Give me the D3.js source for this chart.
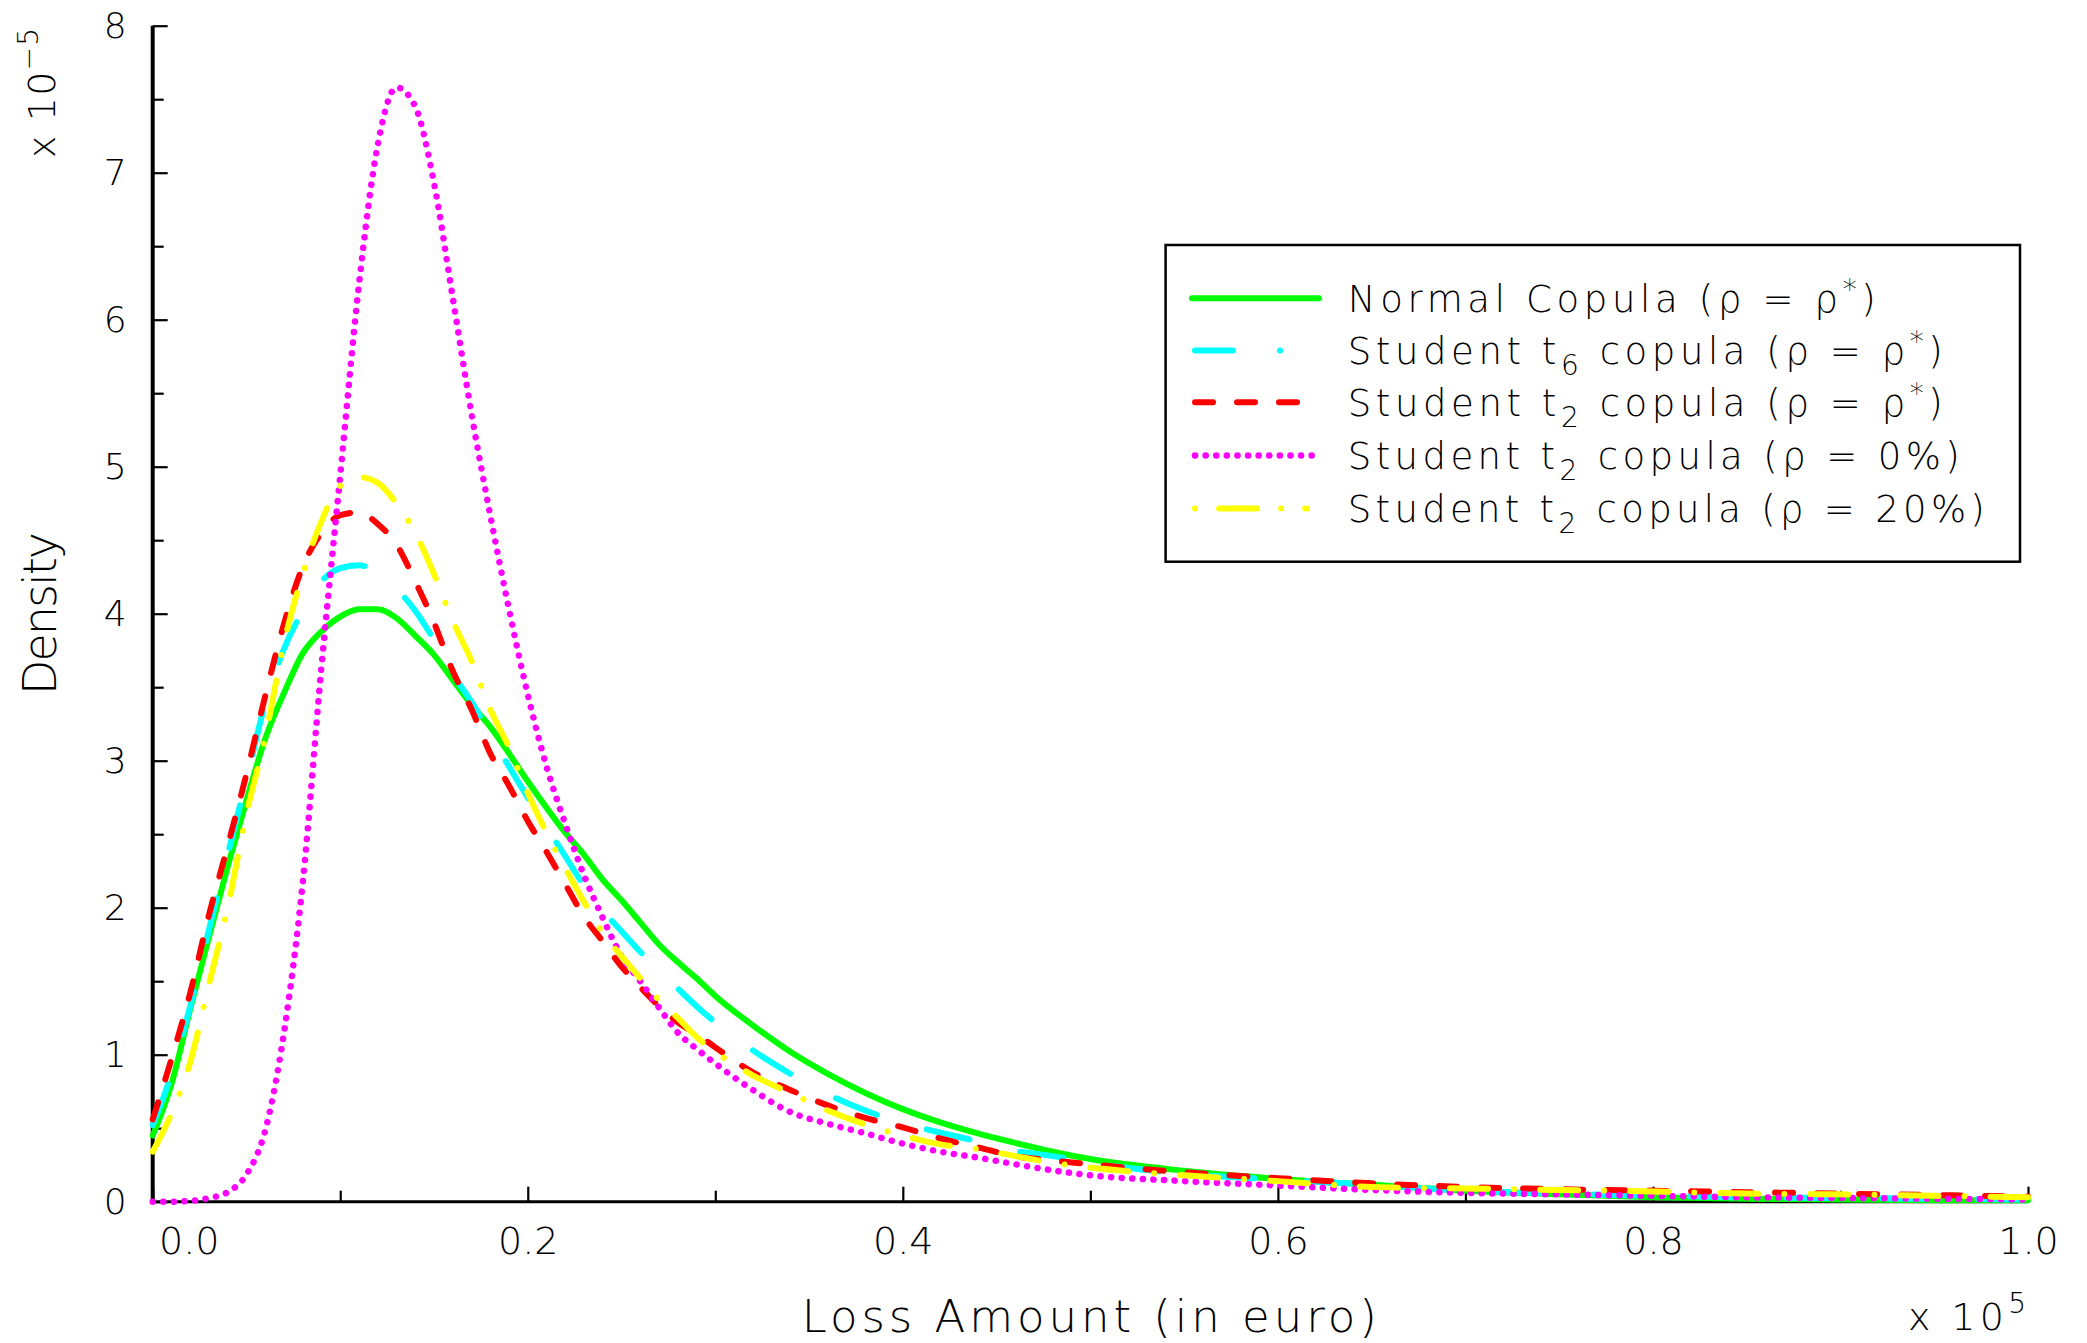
<!DOCTYPE html>
<html>
<head>
<meta charset="utf-8">
<script src="https://cdn.jsdelivr.net/npm/d3@7"></script>
<style>
html, body { margin: 0; padding: 0; background: #ffffff; }
svg { display: block; }
text { font-family: "DejaVu Sans", "Liberation Sans", sans-serif; font-weight: 300; fill: #000; }
</style>
</head>
<body>
<svg id="chart" width="2087" height="1343"></svg>
<script>
// ---------- data (x in units of 10^5 euro, density in units of 10^-5) ----------
const xGrid = [0, 0.01, 0.02, 0.03, 0.04, 0.05, 0.06, 0.07, 0.08, 0.09, 0.10,
  0.11, 0.12, 0.13, 0.14, 0.15, 0.16, 0.17, 0.18, 0.19, 0.20,
  0.21, 0.22, 0.23, 0.24, 0.25, 0.26, 0.27, 0.28, 0.29, 0.30,
  0.32, 0.34, 0.36, 0.38, 0.40, 0.42, 0.44, 0.46, 0.48, 0.50,
  0.55, 0.60, 0.65, 0.70, 0.75, 0.80, 0.85, 0.90, 0.95, 1.00];

const normalCopula = [0.45, 0.80, 1.31, 1.80, 2.28, 2.73, 3.15, 3.46, 3.73, 3.88, 3.98,
  4.03, 4.03, 3.97, 3.85, 3.72, 3.55, 3.38, 3.23, 3.05, 2.86,
  2.68, 2.51, 2.36, 2.19, 2.05, 1.90, 1.75, 1.63, 1.52, 1.40,
  1.20, 1.02, 0.87, 0.74, 0.63, 0.54, 0.465, 0.40, 0.34, 0.29,
  0.21, 0.155, 0.115, 0.075, 0.05, 0.03, 0.02, 0.015, 0.01, 0.01];

const studentT6 = [0.52, 0.87, 1.33, 1.85, 2.36, 2.87, 3.39, 3.76, 4.02, 4.22, 4.31,
  4.33, 4.28, 4.17, 4.02, 3.82, 3.59, 3.40, 3.18, 2.96, 2.75,
  2.55, 2.35, 2.15, 1.98, 1.84, 1.70, 1.57, 1.45, 1.33, 1.22,
  1.03, 0.87, 0.73, 0.62, 0.535, 0.47, 0.41, 0.345, 0.31, 0.265,
  0.19, 0.15, 0.115, 0.075, 0.055, 0.04, 0.03, 0.025, 0.02, 0.015];

const studentT2 = [0.56, 0.97, 1.42, 1.95, 2.42, 2.91, 3.44, 3.93, 4.32, 4.55, 4.67,
  4.69, 4.61, 4.47, 4.22, 3.94, 3.61, 3.35, 3.05, 2.83, 2.59,
  2.38, 2.16, 1.94, 1.77, 1.60, 1.46, 1.33, 1.22, 1.14, 1.05,
  0.88, 0.76, 0.655, 0.57, 0.505, 0.43, 0.37, 0.31, 0.28, 0.255,
  0.20, 0.16, 0.125, 0.10, 0.085, 0.075, 0.065, 0.055, 0.045, 0.035];

const studentT2Rho0 = [0, 0, 0.005, 0.025, 0.065, 0.185, 0.485, 1.15, 2.17, 3.64, 4.94,
  6.24, 7.19, 7.58, 7.45, 6.93, 6.15, 5.36, 4.67, 4.03, 3.45,
  2.96, 2.57, 2.22, 1.93, 1.67, 1.50, 1.32, 1.15, 1.04, 0.94,
  0.76, 0.61, 0.53, 0.465, 0.395, 0.34, 0.30, 0.255, 0.213, 0.18,
  0.14, 0.11, 0.08, 0.06, 0.05, 0.04, 0.03, 0.025, 0.02, 0.015];

const studentT2Rho20 = [0.34, 0.60, 0.95, 1.48, 2.00, 2.64, 3.16, 3.80, 4.27, 4.63, 4.87,
  4.93, 4.89, 4.75, 4.55, 4.27, 3.95, 3.68, 3.35, 3.09, 2.78,
  2.51, 2.27, 2.04, 1.83, 1.67, 1.52, 1.37, 1.25, 1.12, 1.02,
  0.86, 0.74, 0.62, 0.525, 0.45, 0.39, 0.358, 0.31, 0.265, 0.232,
  0.18, 0.14, 0.10, 0.09, 0.08, 0.07, 0.055, 0.05, 0.04, 0.03];

const xTicksMajor = [0, 0.2, 0.4, 0.6, 0.8, 1.0];
const xTickLabels = ["0.0", "0.2", "0.4", "0.6", "0.8", "1.0"];
const xTicksMinor = [0.1, 0.3, 0.5, 0.7, 0.9];
const yTicksMajor = [0, 1, 2, 3, 4, 5, 6, 7, 8];
const yTicksMinor = [0.5, 1.5, 2.5, 3.5, 4.5, 5.5, 6.5, 7.5];

const legendNames = ["Normal Copula", "Student t", "Student t", "Student t", "Student t"];
const legendSubs = ["", "6", "2", "2", "2"];
const legendRhos = ["ρ*", "ρ*", "ρ*", "0%", "20%"];

// ---------- styles ----------
const seriesList = [
  { values: normalCopula,   color: "#00ff00", dash: null,              legendDash: null,              width: 6 },
  { values: studentT6,      color: "#00ffff", dash: "44,52",           legendDash: "38,47,0.1,300",   width: 6 },
  { values: studentT2,      color: "#ff0000", dash: "18,24",           legendDash: "18,24",           width: 6 },
  { values: studentT2Rho0,  color: "#ff00ff", dash: "0.1,10.5",        legendDash: "0.1,10.5",        width: 6.5 },
  { values: studentT2Rho20, color: "#ffff00", dash: "38,26,0.1,26",    legendDash: "0.1,24,38,24",    width: 6 }
];
const legendEnds = [1319, 1319, 1300, 1319, 1307];

const svg = d3.select("#chart");
const x = d3.scaleLinear().domain([0, 1]).range([152.7, 2028]);
const y = d3.scaleLinear().domain([0, 8]).range([1201.7, 25.7]);

// ---------- axes ----------
function styleAxis(g) {
  g.select(".domain").remove();
  g.selectAll(".tick line").attr("stroke", "#000").attr("stroke-width", 2.2);
}
svg.append("g").attr("transform", `translate(${x(0)},0)`)
  .call(d3.axisLeft(y).tickValues(yTicksMinor).tickSizeInner(-11).tickSizeOuter(0).tickFormat(() => ""))
  .call(styleAxis);
const gyMajor = svg.append("g").attr("transform", `translate(${x(0)},0)`)
  .call(d3.axisLeft(y).tickValues(yTicksMajor).tickSizeInner(-15).tickSizeOuter(0).tickPadding(26).tickFormat(d3.format("d")))
  .call(styleAxis);
gyMajor.selectAll("text").attr("font-size", 36).attr("font-family", null).attr("fill", "#000");

svg.append("g").attr("transform", `translate(0,${y(0)})`)
  .call(d3.axisBottom(x).tickValues(xTicksMinor).tickSizeInner(-11).tickSizeOuter(0).tickFormat(() => ""))
  .call(styleAxis);
const gxMajor = svg.append("g").attr("transform", `translate(0,${y(0)})`)
  .call(d3.axisBottom(x).tickValues(xTicksMajor).tickSizeInner(-15).tickSizeOuter(0).tickPadding(25)
    .tickFormat((d, i) => xTickLabels[i]))
  .call(styleAxis);
gxMajor.selectAll("text").attr("font-size", 38).attr("font-family", null).attr("fill", "#000")
  .attr("dx", (d, i) => i === 0 ? 36 : 0);

// axis lines
svg.append("line").attr("x1", x(0)).attr("x2", x(0)).attr("y1", y(8)).attr("y2", y(0) + 1.5)
  .attr("stroke", "#000").attr("stroke-width", 4);
svg.append("line").attr("x1", x(0) - 2).attr("x2", x(1)).attr("y1", y(0)).attr("y2", y(0))
  .attr("stroke", "#000").attr("stroke-width", 3);

// ---------- curves ----------
const line = d3.line()
  .x((d, i) => x(xGrid[i]))
  .y(d => y(d))
  .curve(d3.curveMonotoneX);

seriesList.forEach(s => {
  svg.append("path")
    .attr("d", line(s.values))
    .attr("fill", "none")
    .attr("stroke", s.color)
    .attr("stroke-width", s.width)
    .attr("stroke-linecap", "round")
    .attr("stroke-linejoin", "round")
    .attr("stroke-dasharray", s.dash);
});

// ---------- axis titles ----------
svg.append("text")
  .attr("x", 801.7).attr("y", 1331.7)
  .attr("font-size", 45)
  .attr("textLength", 575).attr("lengthAdjust", "spacing")
  .text("Loss Amount (in euro)");

svg.append("text")
  .attr("transform", "translate(56,613.5) rotate(-90)")
  .attr("text-anchor", "middle")
  .attr("font-size", 46)
  .attr("textLength", 163).attr("lengthAdjust", "spacing")
  .text("Density");

const xe = svg.append("text").attr("x", 1908).attr("y", 1330).attr("font-size", 38)
  .attr("textLength", 118).attr("lengthAdjust", "spacing");
xe.append("tspan").text("x 10");
xe.append("tspan").attr("dy", -17).attr("font-size", 28).text("5");

const ye = svg.append("text").attr("transform", "translate(55,158) rotate(-90)").attr("font-size", 38)
  .attr("textLength", 130).attr("lengthAdjust", "spacing");
ye.append("tspan").text("x 10");
ye.append("tspan").attr("dy", -17).attr("font-size", 28).text("−5");

// ---------- legend ----------
const legX = 1165.6, legY = 245, legW = 854.4, legH = 316.7;
svg.append("rect").attr("x", legX).attr("y", legY).attr("width", legW).attr("height", legH)
  .attr("fill", "#fff").attr("stroke", "#000").attr("stroke-width", 2.5);

const legBaselines = [311.7, 364, 415.7, 469, 522];
const legLengths = [528, 595, 595, 612, 637];
seriesList.forEach((s, i) => {
  const yy = legBaselines[i] - 13.5;
  svg.append("line")
    .attr("x1", s.legendDash ? 1195 : 1192).attr("x2", legendEnds[i])
    .attr("y1", yy).attr("y2", yy)
    .attr("stroke", s.color).attr("stroke-width", s.width)
    .attr("stroke-linecap", "round")
    .attr("stroke-dasharray", s.legendDash);

  const t = svg.append("text").attr("x", 1347.8).attr("y", legBaselines[i])
    .attr("font-size", 37)
    .attr("textLength", legLengths[i]).attr("lengthAdjust", "spacing");
  t.append("tspan").text(legendNames[i]);
  let rest = " (ρ = ";
  if (legendSubs[i]) {
    t.append("tspan").attr("dy", 11).attr("font-size", 28).text(legendSubs[i]);
    t.append("tspan").attr("dy", -11).text(" copula" + rest);
  } else {
    t.append("tspan").text(rest);
  }
  const rho = legendRhos[i];
  if (rho.endsWith("*")) {
    t.append("tspan").text(rho.slice(0, -1));
    t.append("tspan").attr("dy", -13).attr("font-size", 28).text("*");
    t.append("tspan").attr("dy", 13).text(")");
  } else {
    t.append("tspan").text(rho + ")");
  }
});
</script>
</body>
</html>
